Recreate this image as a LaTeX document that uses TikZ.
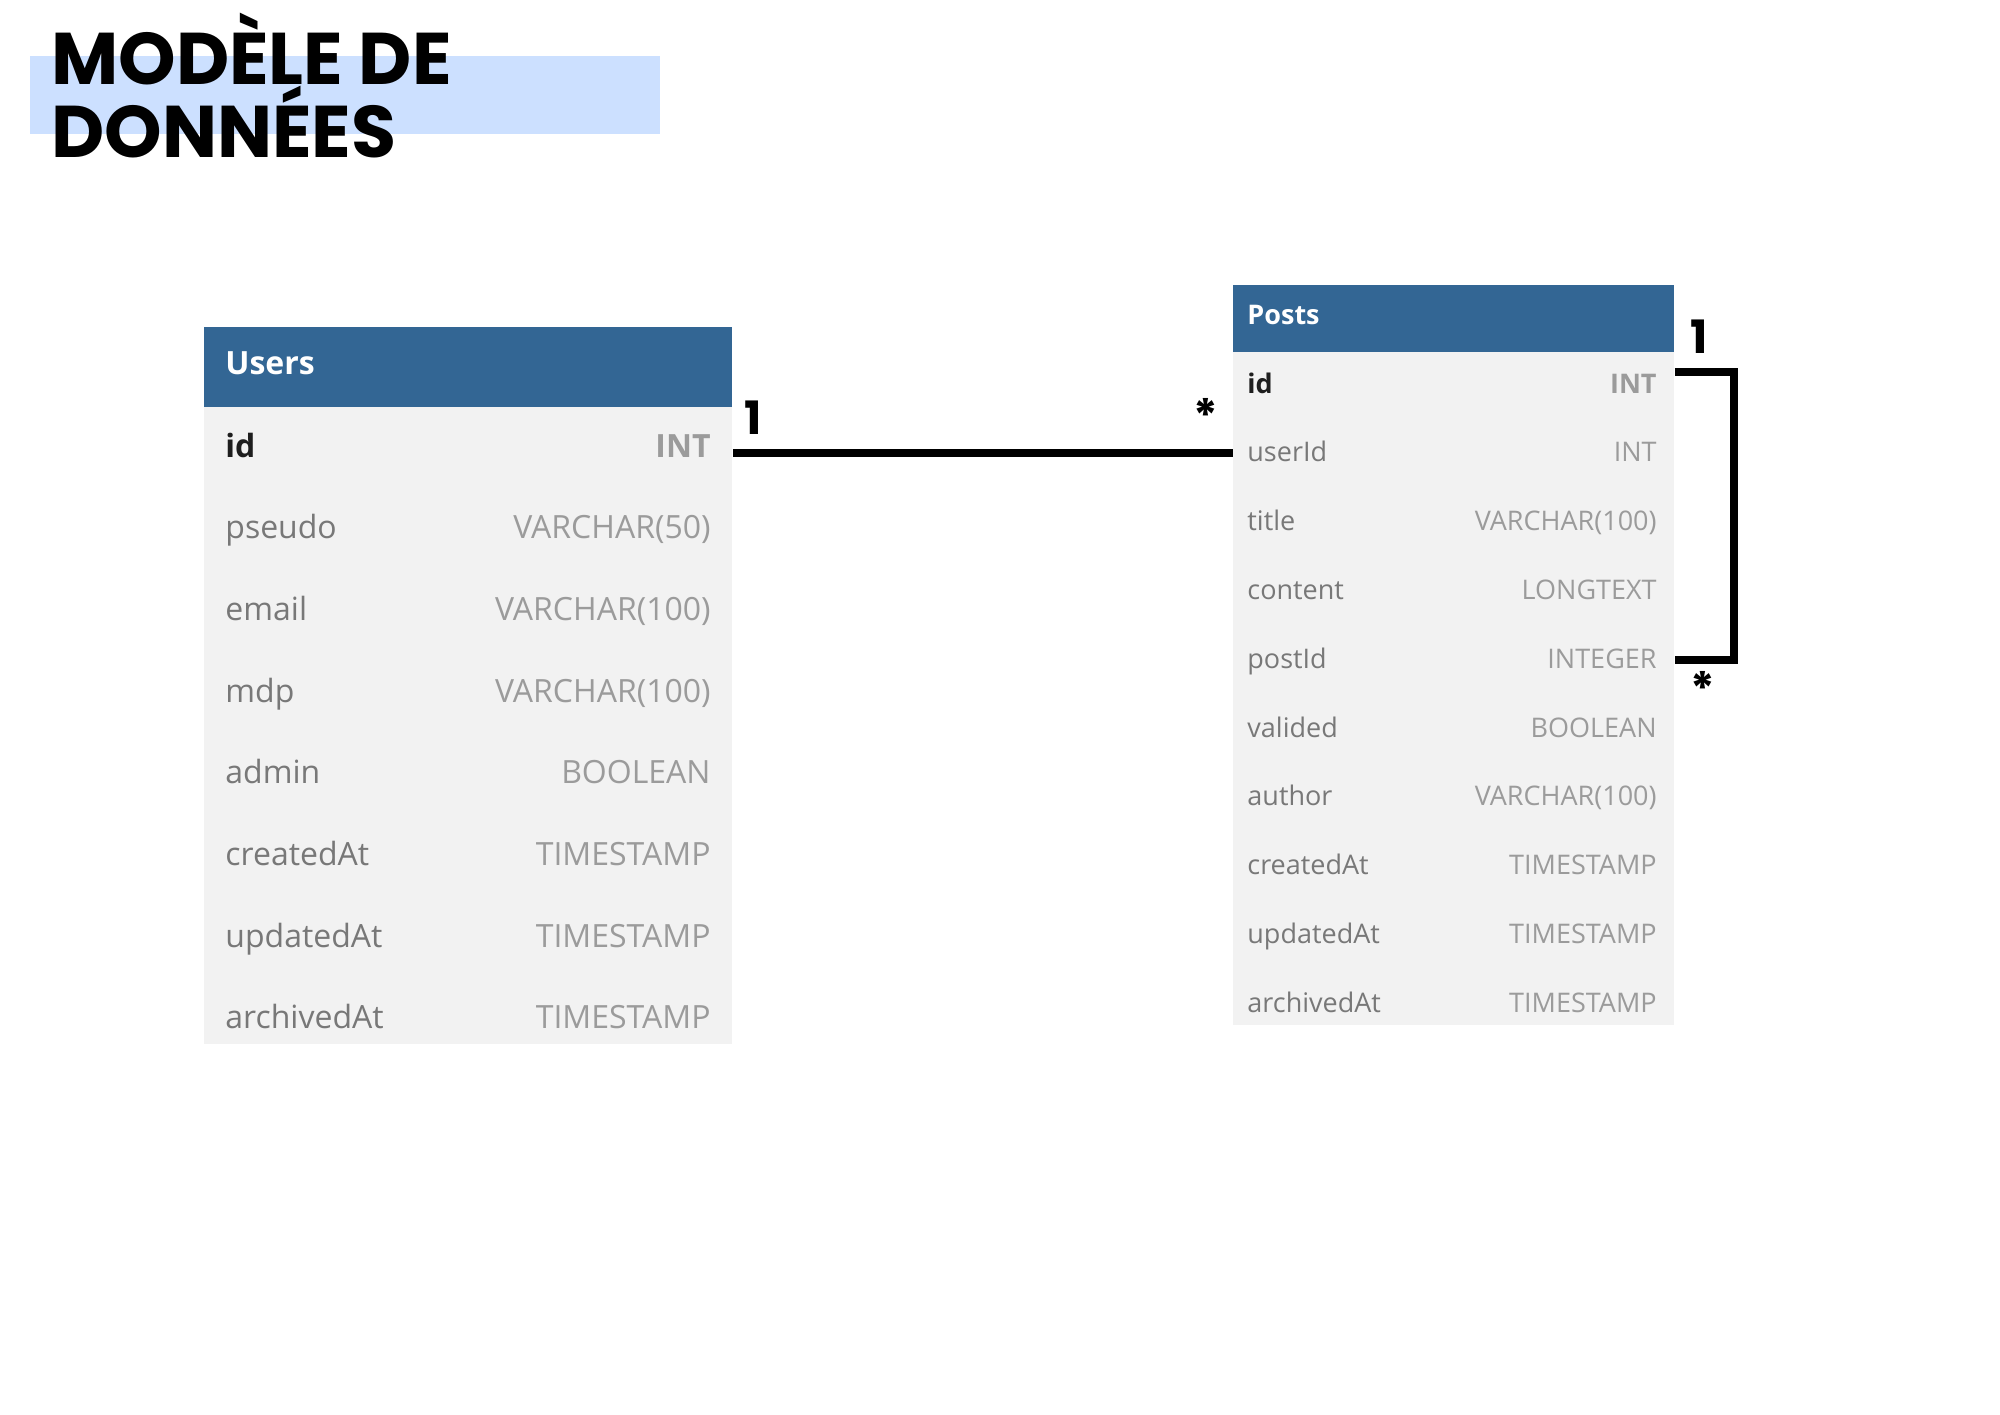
\documentclass[tikz,border=0pt]{standalone}
\usepackage{fontspec}
\setmainfont{Open Sans}
\newfontfamily\pop{Poppins}
\definecolor{hdrblue}{RGB}{51,102,148}
\definecolor{rowbg}{RGB}{242,242,242}
\definecolor{hl}{RGB}{204,224,255}
\definecolor{namegray}{RGB}{120,120,120}
\definecolor{typegray}{RGB}{155,155,155}
\definecolor{idblack}{RGB}{30,30,30}
\tikzset{
  hdr/.style={fill=hdrblue, draw=none, inner sep=0pt, anchor=north west},
  tbody/.style={fill=rowbg, draw=none, inner sep=0pt, anchor=north west},
  ufont/.style={font=\fontsize{16}{19}\selectfont},
  pfont/.style={font=\fontsize{13.5}{16}\selectfont},
  uname/.style={ufont, text=namegray, inner sep=0pt, anchor=base west},
  utype/.style={ufont, text=typegray, inner sep=0pt, anchor=base east},
  pname/.style={pfont, text=namegray, inner sep=0pt, anchor=base west},
  ptype/.style={pfont, text=typegray, inner sep=0pt, anchor=base east},
  htext/.style={text=white, inner sep=0pt, anchor=base west},
  rel/.style={line width=4pt, draw=black},
  card/.style={font=\pop\bfseries\fontsize{23}{23}\selectfont, inner sep=0pt, anchor=base},
  ttl/.style={font=\pop\bfseries\fontsize{36.6}{37}\selectfont, inner sep=0pt, anchor=base west},
}
\begin{document}
\begin{tikzpicture}[x=0.5pt,y=-0.5pt]
\useasboundingbox (0,0) rectangle (2000,1414);
\fill[white] (0,0) rectangle (2000,1414);
% title
\node[fill=hl, inner sep=0pt, anchor=north west, minimum width=315pt, minimum height=39pt] (band) at (30,56) {};
\node[ttl] (t1) at (51,84) {MODÈLE DE};
\node[ttl] (t2) at (51,157) {DONNÉES};
% Users table
\node[hdr, minimum width=264pt, minimum height=40pt] (uhead) at (204,327) {};
\node[tbody, minimum width=264pt, minimum height=318.5pt] (ubody) at (204,407) {};
\node[htext, font=\bfseries\fontsize{16}{19}\selectfont] (utitle) at (225,374) {Users};
\node[uname, text=idblack, font=\bfseries\fontsize{16}{19}\selectfont] (un0) at (225,457) {id};
\node[utype, font=\bfseries\fontsize{16}{19}\selectfont] (ut0) at (711,457) {INT};
\foreach \n/\t [count=\i] in {pseudo/VARCHAR(50),email/VARCHAR(100),mdp/VARCHAR(100),admin/BOOLEAN,createdAt/TIMESTAMP,updatedAt/TIMESTAMP,archivedAt/TIMESTAMP}{
  \node[uname] (un\i) at (225,{457+81.7*\i}) {\n};
  \node[utype] (ut\i) at (711,{457+81.7*\i}) {\t};
}
% Posts table
\node[hdr, minimum width=220.5pt, minimum height=33.5pt] (phead) at (1233,285) {};
\node[tbody, minimum width=220.5pt, minimum height=336.5pt] (pbody) at (1233,352) {};
\node[htext, font=\bfseries\fontsize{13.5}{16}\selectfont] (ptitle) at (1247,324) {Posts};
\node[pname, text=idblack, font=\bfseries\fontsize{13.5}{16}\selectfont] (pn0) at (1247,393) {id};
\node[ptype, font=\bfseries\fontsize{13.5}{16}\selectfont] (pt0) at (1657,393) {INT};
\foreach \n/\t [count=\i] in {userId/INT,title/VARCHAR(100),content/LONGTEXT,postId/INTEGER,valided/BOOLEAN,author/VARCHAR(100),createdAt/TIMESTAMP,updatedAt/TIMESTAMP,archivedAt/TIMESTAMP}{
  \node[pname] (pn\i) at (1247,{393+68.8*\i}) {\n};
  \node[ptype] (pt\i) at (1657,{393+68.8*\i}) {\t};
}
% connector ends
\coordinate (uA) at (ubody.east |- 0,453);
\coordinate (pU) at (pbody.west |- 0,453);
\coordinate (pA) at (pbody.east |- 0,372);
\coordinate (pB) at (pbody.east |- 0,660);
\draw[rel] (uA) -- (pU);
\draw[rel] (pA) -- ++(59,0) |- (pB);
% cardinalities
\node[card] (c1) at (753,434) {1};
\node[card] (c2) at (1206,432) {*};
\node[card] (c3) at (1699,353) {1};
\node[card] (c4) at (1703,705) {*};
\end{tikzpicture}
\end{document}
